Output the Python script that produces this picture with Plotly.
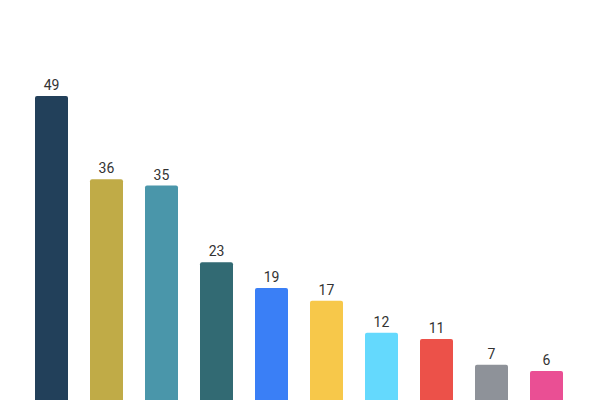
import plotly.graph_objects as go

# === Data ===
categories = ["A", "B", "C", "D", "E", "F", "G", "H", "I", "J"]
values = [49, 36, 35, 23, 19, 17, 12, 11, 7, 6]
colors = ["#22405a", "#c0ab47", "#4a96aa", "#326a73", "#3a7ff6",
          "#f7c84a", "#64d9fd", "#ec5149", "#8e9299", "#ea4f94"]

# === Figure ===
fig = go.Figure(go.Bar(
    x=categories, y=values,
    marker=dict(color=colors, line=dict(width=0)),
    text=values, textposition="outside", cliponaxis=False,
    textfont=dict(family="Roboto", size=14, color="#333333"),
))

# page body has an 8px margin, so offsets are compensated here
fig.update_layout(
    width=600, height=400,
    margin=dict(l=16, r=34, t=0, b=0),
    paper_bgcolor="white", plot_bgcolor="white",
    bargap=0.4, barcornerradius=2,
    showlegend=False,
    xaxis=dict(visible=False),
    yaxis=dict(visible=False, range=[0.22, 62.77]),
)

fig.write_html("out.html")
